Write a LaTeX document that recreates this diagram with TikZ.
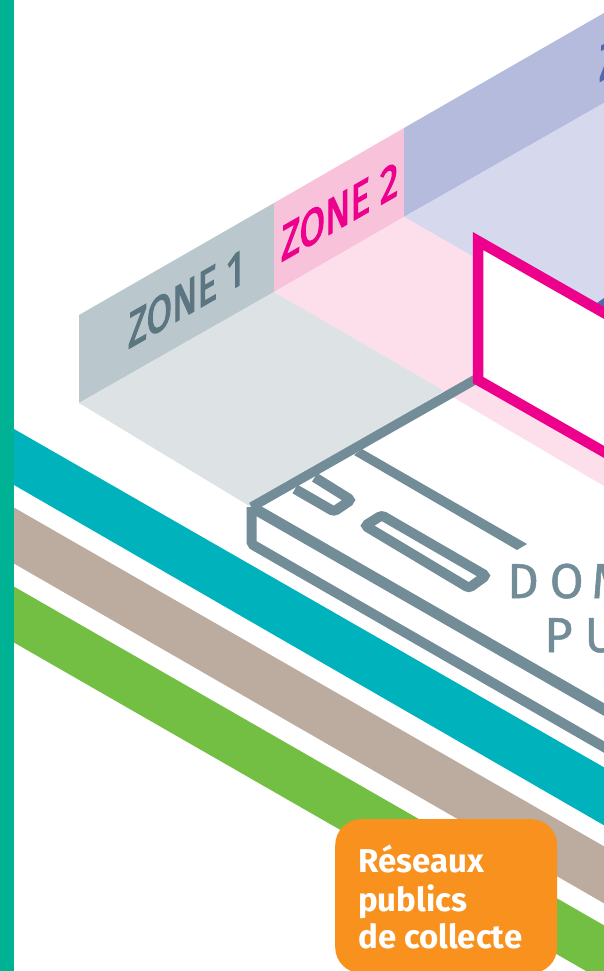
\documentclass[tikz,border=0pt]{standalone}
\usepackage{fontspec}
\setmainfont{Fira Sans}
\newfontfamily\heavyfont[FakeBold=3]{Fira Sans}
\newfontfamily\domfont[FakeBold=1]{Fira Sans}
\usepackage{xcolor}
\definecolor{barteal}{HTML}{00B294}
\definecolor{lineteal}{HTML}{00B2BC}
\definecolor{linebeige}{HTML}{BBAC9F}
\definecolor{linegreen}{HTML}{72BF44}
\definecolor{boxorange}{HTML}{F8911E}
\definecolor{frameslate}{HTML}{728D98}
\definecolor{textslate}{HTML}{5B7581}
\definecolor{wallslate}{HTML}{BAC8CD}
\definecolor{floorslate}{HTML}{DDE2E4}
\definecolor{zonepink}{HTML}{EC008C}
\definecolor{wallpink}{HTML}{F7C2DA}
\definecolor{floorpink}{HTML}{FCDFEB}
\definecolor{zoneblue}{HTML}{5468AE}
\definecolor{wallblue}{HTML}{B5BBDD}
\definecolor{floorblue}{HTML}{D6D8ED}
\tikzset{
  kerb/.style={draw=frameslate,line width=10pt,line join=miter},
  zonelabel/.style={anchor=base west,inner sep=0pt,transform shape,cm={0.74,0.425,0,1,(0,0)},
    font=\fontsize{50}{50}\heavyfont},
  domaine/.style={anchor=base west,inner sep=0pt,text=frameslate,font=\fontsize{49}{49}\domfont},
  boxline/.style={anchor=base west,inner sep=0pt,text=white,font=\fontsize{33}{33}\selectfont\bfseries}
}
\begin{document}
\begin{tikzpicture}[x=1pt,y=-1pt]
    \useasboundingbox (0,0) rectangle (604,971);
    \clip (0,0) rectangle (604,971);
    \fill[white] (0,0) rectangle (604,971);
    % walls
    \fill[wallslate] (79,315) -- (274,203) -- (274,292) -- (79,403) -- cycle;
    \fill[wallpink] (274,203) -- (404,128) -- (404,217) -- (274,292) -- cycle;
    \fill[wallblue] (404,128) -- (604,13) -- (604,103) -- (404,217) -- cycle;
    % floors
    \fill[floorblue] (404,217) -- (604,103) -- (604,332) -- cycle;
    \fill[floorpink] (274,292) -- (404,217) -- (604,332) -- (604,486) -- cycle;
    \fill[floorslate] (79,403) -- (274,292) -- (444,391) -- (251,507) -- cycle;
    % labels
    \node[zonelabel,text=textslate] (zoneone) at (128,349) {ZONE 1};
    \node[zonelabel,text=zonepink] (zonetwo) at (281,262) {ZONE 2};
    \node[zonelabel,text=zoneblue] (zonethree) at (599,82) {Z};
    % networks
    \fill[lineteal] (14,429) -- (620,776.5) -- (620,834.5) -- (14,485) -- cycle;
    \fill[linebeige] (13,507) -- (620,855.5) -- (620,912.5) -- (13,563) -- cycle;
    \fill[linegreen] (13,586) -- (620,934.5) -- (620,990.5) -- (13,642) -- cycle;
    \fill[barteal] (0,0) rectangle (13.6,971);
    % plot frame
    \draw[kerb,rounded corners=3pt] (295,489) -- (334,511.5) -- (351,500) -- (314.7,477.3);
    \draw[kerb,rounded corners=3pt] (365,525.7) -- (381.7,515.3) -- (486,575.7) -- (469,588) -- cycle;
    \fill[frameslate] (362,449) -- (527,544) -- (517,550) -- (354,455) -- cycle;
    \draw[kerb,rounded corners=2pt] (251.5,507) -- (251.5,544) -- (620,756.2);
    \draw[kerb,line width=11pt] (251.5,507) -- (620,718.7);
    \draw[kerb,line width=9.5pt] (478,378) -- (251.5,507);
    % building
    \fill[zoneblue] (597,303) -- (604,298) -- (604,310) -- cycle;
    \draw[draw=zonepink,fill=white,line width=10.5pt,line join=miter] (620,322) -- (478,241) -- (478,380) -- (620,461);
    % text
    \node[domaine] (domtext) at (507,598) {D\hspace{11pt}O\hspace{8pt}M};
    \node[domaine] (putext) at (544,652) {P\hspace{12pt}U};
    \node[fill=boxorange,rounded corners=26pt,minimum width=222pt,minimum height=154pt,anchor=north west,inner sep=0pt] (netbox) at (335,819) {};
    \node[boxline] (lineone) at (358,872) {Réseaux};
    \node[boxline] (linetwo) at (358,911) {publics};
    \node[boxline] (linethree) at (358,948) {de collecte};
\end{tikzpicture}
\end{document}
